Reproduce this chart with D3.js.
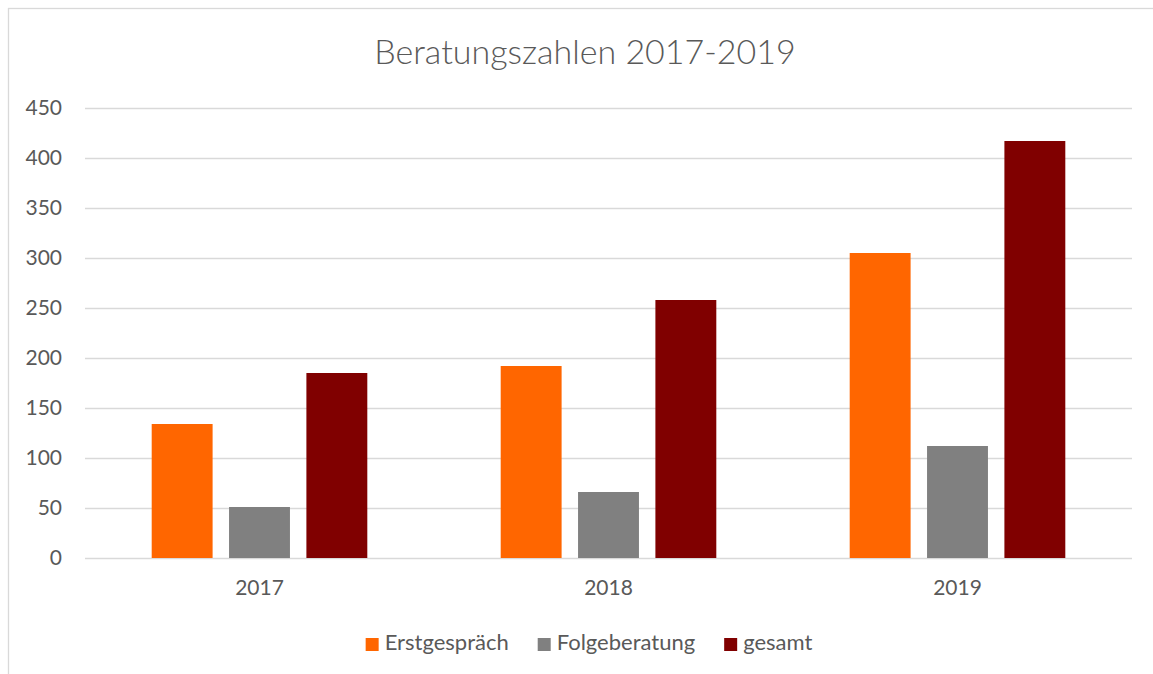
<!DOCTYPE html>
<html>
<head>
<meta charset="utf-8">
<script src="https://cdn.jsdelivr.net/npm/d3@7"></script>
<style>
  body { margin: 0; background: #fff; }
  svg { display: block; font-family: Lato, "Open Sans", sans-serif; }
</style>
</head>
<body>
<div id="chart"></div>
<script>
// chart data
const years = ["2017", "2018", "2019"];
const seriesNames = ["Erstgespräch", "Folgeberatung", "gesamt"];
const erstgespraech = [134, 192, 305];
const folgeberatung = [51, 66, 112];
const gesamt = [185, 258, 417];
const yTicks = [0, 50, 100, 150, 200, 250, 300, 350, 400, 450];
const colors = ["#ff6600", "#808080", "#800000"];

const W = 1153, H = 674;
const plot = { left: 85, right: 1132, top: 108, bottom: 558 };

const svg = d3.select("#chart").append("svg")
  .attr("width", W)
  .attr("height", H);

// chart frame (right and bottom edges fall outside the picture)
svg.append("rect")
  .attr("x", 8.5).attr("y", 8.5)
  .attr("width", 1170).attr("height", 700)
  .attr("fill", "#fff")
  .attr("stroke", "#d9d9d9")
  .attr("stroke-width", 1.3);

// scales
const x0 = d3.scaleBand()
  .domain(years)
  .range([plot.left, plot.right]);

// excel-like gap width 219%, overlap -27%
const barW = x0.bandwidth() / (3 + 2 * 0.27 + 2.19);
const groupW = barW * (3 + 2 * 0.27);
const x1 = d3.scaleBand()
  .domain(seriesNames)
  .range([(x0.bandwidth() - groupW) / 2, (x0.bandwidth() + groupW) / 2])
  .paddingInner(0.27 / 1.27);

const y = d3.scaleLinear()
  .domain([0, 450])
  .range([plot.bottom, plot.top]);

const color = d3.scaleOrdinal().domain(seriesNames).range(colors);

// gridlines
svg.append("g")
  .selectAll("line")
  .data(yTicks)
  .join("line")
    .attr("x1", plot.left)
    .attr("x2", plot.right)
    .attr("y1", d => Math.round(y(d)) + 0.5)
    .attr("y2", d => Math.round(y(d)) + 0.5)
    .attr("stroke", "#d9d9d9")
    .attr("stroke-width", 1.3);

// y axis labels
const yAxis = svg.append("g")
  .attr("transform", `translate(${plot.left},0)`)
  .call(d3.axisLeft(y).tickValues(yTicks).tickSize(0).tickPadding(23));
yAxis.select(".domain").remove();
yAxis.selectAll("text")
  .attr("fill", "#595959")
  .style("font-size", "21px")
  .style("font-family", "Lato, sans-serif");

// x axis labels
const xAxis = svg.append("g")
  .attr("transform", `translate(0,${plot.bottom})`)
  .call(d3.axisBottom(x0).tickSize(0).tickPadding(22));
xAxis.select(".domain").remove();
xAxis.selectAll("text")
  .attr("fill", "#595959")
  .style("font-size", "21px")
  .style("font-family", "Lato, sans-serif");

// bars
const rows = years.map((yr, i) => ({
  year: yr,
  values: [erstgespraech[i], folgeberatung[i], gesamt[i]]
}));

svg.append("g")
  .selectAll("g")
  .data(rows)
  .join("g")
    .attr("transform", d => `translate(${x0(d.year)},0)`)
  .selectAll("rect")
  .data(d => d.values.map((v, j) => ({ key: seriesNames[j], value: v })))
  .join("rect")
    .attr("x", d => x1(d.key))
    .attr("y", d => y(d.value))
    .attr("width", x1.bandwidth())
    .attr("height", d => y(0) - y(d.value))
    .attr("fill", d => color(d.key));

// title
svg.append("text")
  .attr("x", 585)
  .attr("y", 64)
  .attr("text-anchor", "middle")
  .attr("fill", "#595959")
  .style("font-size", "34px")
  .style("font-weight", 300)
  .text("Beratungszahlen 2017-2019");

// legend
const legend = svg.append("g");
const items = legend.selectAll("g")
  .data(seriesNames)
  .join("g");
items.append("rect")
  .attr("y", 638)
  .attr("width", 13)
  .attr("height", 13)
  .attr("fill", d => color(d));
items.append("text")
  .attr("x", 19)
  .attr("y", 650)
  .attr("fill", "#595959")
  .style("font-size", "22px")
  .text(d => d);

let cursor = 0;
items.each(function () {
  const g = d3.select(this);
  g.attr("transform", `translate(${cursor},0)`);
  cursor += 19 + g.select("text").node().getComputedTextLength() + 29;
});
const legendW = cursor - 29;
legend.attr("transform", `translate(${589 - legendW / 2},0)`);
</script>
</body>
</html>
